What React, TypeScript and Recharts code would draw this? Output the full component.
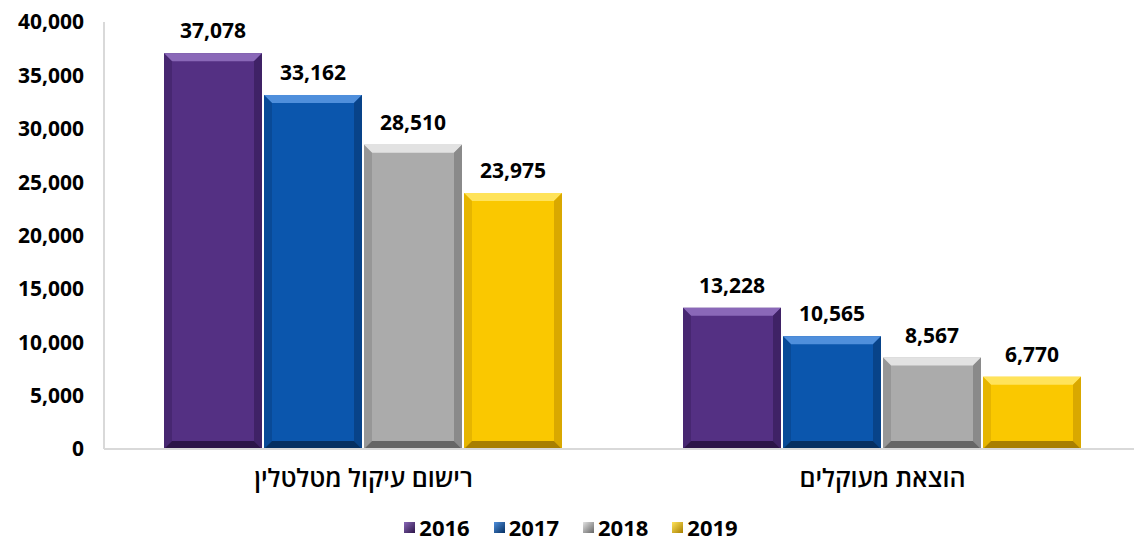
import { BarChart, Bar, XAxis, YAxis, Legend, LabelList } from 'recharts';

const categories = ['רישום עיקול מטלטלין', 'הוצאת מעוקלים'];
const years = ['2016', '2017', '2018', '2019'];
const values2016 = [37078, 13228];
const values2017 = [33162, 10565];
const values2018 = [28510, 8567];
const values2019 = [23975, 6770];
const yTicks = [0, 5000, 10000, 15000, 20000, 25000, 30000, 35000, 40000];

const seriesValues = [values2016, values2017, values2018, values2019];

// base / light / dark tones for the bevelled bars
const palette: Record<string, { base: string; light: string; side: string; dark: string }> = {
    '2016': { base: '#543083', light: '#8a68b8', side: '#3f2266', dark: '#2c1548' },
    '2017': { base: '#0b56ad', light: '#4f8fdc', side: '#084389', dark: '#052f61' },
    '2018': { base: '#ababab', light: '#e2e2e2', side: '#8a8a8a', dark: '#666666' },
    '2019': { base: '#fac800', light: '#ffe35a', side: '#d9a800', dark: '#a87f00' },
};

const FONT = '"Open Sans", "Noto Sans", sans-serif';

const data = categories.map((name, i) => {
    const row: Record<string, string | number> = { name };
    years.forEach((y, j) => {
        row[y] = seriesValues[j][i];
    });
    return row;
});

const fmt = (v: number) => v.toLocaleString('en-US');

const BevelBar = (props: any) => {
    const { x, y, width, height, dataKey } = props;
    if (!height || height <= 0) return null;
    const c = palette[dataKey];
    const b = Math.min(8, height / 2, width / 2);
    const x2 = x + width;
    const y2 = y + height;
    return (
        <g>
            <rect x={x} y={y} width={width} height={height} fill={c.base} />
            <polygon points={`${x},${y} ${x2},${y} ${x2 - b},${y + b} ${x + b},${y + b}`} fill={c.light} />
            <polygon points={`${x},${y} ${x + b},${y + b} ${x + b},${y2 - b} ${x},${y2}`} fill={c.side} opacity={0.6} />
            <polygon points={`${x2},${y} ${x2},${y2} ${x2 - b},${y2 - b} ${x2 - b},${y + b}`} fill={c.side} />
            <polygon points={`${x},${y2} ${x + b},${y2 - b} ${x2 - b},${y2 - b} ${x2},${y2}`} fill={c.dark} />
        </g>
    );
};

const CategoryTick = (props: any) => {
    const { x, y, payload } = props;
    return (
        <text x={x} y={y} dy={30} textAnchor="middle" fill="#000" fontSize={25} fontWeight={600} fontFamily={FONT}>
            {payload.value}
        </text>
    );
};

const LegendContent = () => (
    <div style={{ display: 'flex', justifyContent: 'center', alignItems: 'center', height: 26, fontFamily: FONT }}>
        {years.map((y) => (
            <div key={y} style={{ display: 'flex', alignItems: 'center', margin: '0 12px' }}>
                <span
                    style={{
                        display: 'inline-block',
                        width: 11,
                        height: 11,
                        marginRight: 4,
                        background: `linear-gradient(135deg, ${palette[y].light}, ${palette[y].dark})`,
                    }}
                />
                <span style={{ fontSize: 22, fontWeight: 700, color: '#000', lineHeight: '26px' }}>{y}</span>
            </div>
        ))}
    </div>
);

const App: React.FC = () => {
    return (
        <div style={{ position: 'absolute', left: 0, top: 0, background: '#fff' }}>
            <BarChart
                width={1134}
                height={540}
                data={data}
                margin={{ top: 22, right: -8, bottom: 25, left: 0 }}
                barCategoryGap={60}
                barGap={2}
            >
                <XAxis
                    dataKey="name"
                    axisLine={{ stroke: '#d9d9d9', strokeWidth: 2 }}
                    tickLine={false}
                    tick={<CategoryTick />}
                    height={40}
                    interval={0}
                />
                <YAxis
                    domain={[0, 40000]}
                    ticks={yTicks}
                    tickFormatter={fmt}
                    width={104}
                    axisLine={{ stroke: '#d9d9d9', strokeWidth: 2 }}
                    tickLine={false}
                    tickSize={0}
                    tickMargin={20}
                    tick={{ fill: '#000', fontSize: 21, fontWeight: 700, fontFamily: FONT }}
                />
                <Legend
                    verticalAlign="bottom"
                    content={<LegendContent />}
                    wrapperStyle={{ top: 514, height: 26 }}
                />
                {years.map((y) => (
                    <Bar key={y} dataKey={y} fill={palette[y].base} shape={<BevelBar />} isAnimationActive={false}>
                        <LabelList
                            dataKey={y}
                            position="top"
                            offset={15}
                            formatter={(v: any) => fmt(Number(v))}
                            style={{ fill: '#000', fontSize: 21, fontWeight: 700, fontFamily: FONT }}
                        />
                    </Bar>
                ))}
            </BarChart>
        </div>
    );
};

export default App;
